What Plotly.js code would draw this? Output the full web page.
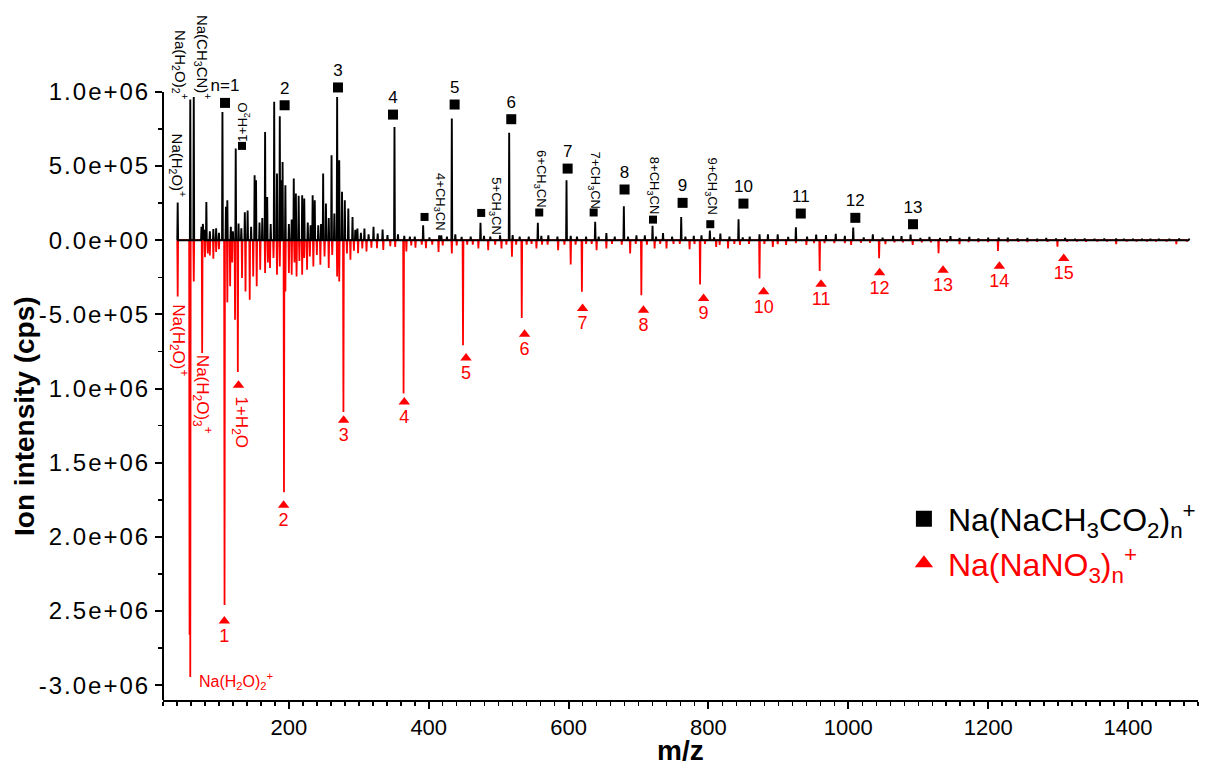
<!DOCTYPE html>
<html><head><meta charset="utf-8">
<script src="https://cdn.plot.ly/plotly-3.0.1.min.js"></script>
<style>
html,body{margin:0;padding:0;background:#fff;}
#chart{width:1214px;height:770px;}
g.ytick text{letter-spacing:2px;}
</style></head>
<body><div id="chart"></div>
<script>
// ---------- spectrum peaks (m/z, intensity in cps) ----------
const blackPeakMz = [41,59,64,75,77,79,82,87,92,96,100,105,110,112,117,120,124,128,132,137,141,146,151,153,158,162,166,169,174,179,183,187,190,191,195,200,204,207,210,214,219,222,227,231,234,237,242,246,249,253,257,261,265,269,272,276,280,285,291,295,298,303,308,314,321,327,334,341,351,356,365,373,380,392,401,415,418,426,433,438,447,460,474,479,488,502,515,520,530,543,556,561,571,584,597,603,612,625,638,643,654,666,679,685,697,709,720,725,735,748,761,767,779,790,802,808,817,830,843,849,859,873,885,899,914,925,941,954,968,982,995,1007,1022,1035,1049,1064,1076,1089,1103,1116,1131,1146,1159,1173,1186,1200,1215,1228,1242,1256,1270,1283,1297,1310,1324,1338,1352,1366,1383,1394,1407,1420,1432,1444,1459,1473,1487];
const blackPeakInt = [254000,949000,966000,90000,110000,70000,258000,60000,75000,80000,50000,865000,225000,270000,90000,60000,618000,112000,80000,189000,200000,90000,438000,405000,120000,150000,730000,292000,110000,933000,450000,836000,405000,528000,371000,110000,140000,416000,315000,300000,303000,281000,120000,100000,303000,270000,100000,110000,450000,247000,150000,573000,180000,966000,539000,326000,270000,213000,157000,70000,79000,50000,79000,40000,90000,45000,72000,35000,764000,40000,30000,25000,25000,101000,20000,33000,33000,25000,820000,40000,22000,25000,117000,30000,25000,33000,724000,35000,25000,25000,117000,30000,33000,25000,405000,30000,25000,25000,124000,25000,49000,25000,229000,25000,33000,33000,97000,25000,49000,25000,157000,25000,30000,33000,65000,20000,45000,25000,142000,20000,25000,40000,40000,40000,22000,88000,25000,38000,34000,43000,29000,85000,20000,40000,18000,29000,27000,38000,15000,22000,15000,27000,15000,22000,12000,18000,18000,18000,12000,15000,10000,15000,12000,15000,10000,12000,10000,12000,12000,9000,10000,10000,9000,10000,9000,12000,10000];

const redPeakMz = [41,58,59,64,76,80,84,87,92,96,100,108,112,116,119,123,127,133,138,144,149,154,159,166,170,173,178,183,187,193,195,200,204,208,211,215,219,222,226,230,235,240,245,251,257,262,269,272,278,283,288,293,299,305,311,318,326,335,345,352,364,368,375,381,390,396,405,414,420,433,440,449,455,463,471,485,495,504,511,519,525,533,540,547,554,562,570,585,594,603,610,619,625,633,640,654,662,676,688,696,704,712,723,731,740,750,759,773,780,788,795,811,816,828,837,845,858,873,880,892,899,911,925,940,951,959,966,980,995,1004,1018,1031,1044,1053,1066,1078,1092,1105,1118,1129,1141,1159,1172,1186,1200,1214,1228,1243,1256,1270,1285,1299,1313,1327,1340,1356,1370,1383,1398,1412,1427,1440,1455,1469,1484];
const redPeakInt = [379000,2660000,2945000,278000,761000,115000,90000,103000,125000,80000,60000,2460000,419000,311000,150000,536000,888000,255000,345000,401000,244000,311000,199000,221000,150000,188000,120000,233000,177000,1700000,345000,221000,233000,150000,244000,140000,233000,120000,199000,110000,177000,100000,166000,110000,188000,100000,244000,278000,1158000,90000,132000,70000,87000,55000,76000,50000,53000,65000,40000,45000,1034000,76000,35000,50000,30000,53000,30000,79000,35000,90000,35000,708000,30000,30000,56000,67000,30000,56000,30000,112000,30000,524000,30000,25000,56000,30000,30000,67000,30000,164000,30000,348000,25000,25000,67000,56000,25000,30000,90000,25000,371000,30000,56000,25000,56000,25000,25000,61000,25000,299000,25000,45000,31000,56000,25000,31000,25000,258000,25000,45000,27000,31000,20000,31000,20000,207000,20000,20000,20000,31000,18000,18000,121000,27000,15000,15000,31000,15000,15000,88000,15000,27000,12000,12000,12000,72000,12000,10000,12000,10000,10000,43000,10000,8000,10000,8000,8000,27000,8000,8000,8000,8000,8000,27000,8000];

// ---------- cluster assignments ----------
const acetateLabels = ["n=1","2","3","4","5","6","7","8","9","10","11","12","13"];
const acetateMz = [108.7,193.9,270.2,348.9,437,518,598.6,680,763,850,932,1010,1092.5];
const acetateY = [926000,910000,1030000,847000,915000,816000,483000,342000,252000,247000,180000,151000,108000];
const acetateAdductLabels = ["1+H<sub>2</sub>O","4+CH<sub>3</sub>CN","5+CH<sub>3</sub>CN","6+CH<sub>3</sub>CN","7+CH<sub>3</sub>CN","8+CH<sub>3</sub>CN","9+CH<sub>3</sub>CN"];
const acetateAdductMz = [133,394,475,558,635.8,720.7,802.6];
const acetateAdductY = [636000,157000,184000,187000,187000,139000,108000];

const nitrateLabels = ["1","2","3","4","5","6","7","8","9","10","11","12","13","14","15"];
const nitrateMz = [107.7,192.5,278.3,365,453.3,537,620,707,793,878.9,961,1044.7,1135.4,1216,1308];
const nitrateY = [-2567000,-1787000,-1214000,-1090000,-794000,-634000,-461000,-472000,-393000,-348000,-297000,-220000,-202000,-175000,-123000];
const nitrateAdductLabels = ["1+H<sub>2</sub>O"];
const nitrateAdductMz = [128];
const nitrateAdductY = [-978000];

const yTickVals = [-3000000,-2500000,-2000000,-1500000,-1000000,-500000,0,500000,1000000];
const yTickText = ["-3.0e+06","2.5e+06","2.0e+06","1.5e+06","1.0e+06","-5.0e+05","0.0e+00","5.0e+05","1.0e+06"];
const yMinorVals = [-2750000,-2250000,-1750000,-1250000,-750000,-250000,250000,750000];

const seriesNames = ["Na(NaCH<sub>3</sub>CO<sub>2</sub>)<sub>n</sub><sup>+</sup>","Na(NaNO<sub>3</sub>)<sub>n</sub><sup>+</sup>"];
const xTitle = "m/z";
const yTitle = "Ion intensity (cps)";

// ---------- build stick spectra ----------
function sticks(mz, inten, sign){
  const x=[], y=[];
  for(let i=0;i<mz.length;i++){
    x.push(mz[i]-0.6, mz[i], mz[i]+0.6);
    y.push(0, sign*inten[i], 0);
  }
  return {x,y};
}
const bs = sticks(blackPeakMz, blackPeakInt, 1);
const rs = sticks(redPeakMz, redPeakInt, -1);

const FONT = 'Liberation Sans, Arial, sans-serif';
const traces = [
  {x:rs.x, y:rs.y, type:'scatter', mode:'lines', line:{color:'#ff0000', width:1.8}, showlegend:false, hoverinfo:'skip'},
  {x:bs.x, y:bs.y, type:'scatter', mode:'lines', line:{color:'#000000', width:1.9}, showlegend:false, hoverinfo:'skip'},
  {x:acetateMz, y:acetateY, type:'scatter', mode:'markers+text', text:acetateLabels, textposition:'top center',
   textfont:{size:17, color:'#000', family:FONT}, marker:{symbol:'square', size:10, color:'#000'}, cliponaxis:false, showlegend:false},
  {x:acetateAdductMz, y:acetateAdductY, type:'scatter', mode:'markers', marker:{symbol:'square', size:8, color:'#000'}, cliponaxis:false, showlegend:false},
  {x:nitrateMz, y:nitrateY, type:'scatter', mode:'markers+text', text:nitrateLabels, textposition:'bottom center',
   textfont:{size:18, color:'#ff0000', family:FONT}, marker:{symbol:'triangle-up', size:10, color:'#ff0000'}, cliponaxis:false, showlegend:false},
  {x:nitrateAdductMz, y:nitrateAdductY, type:'scatter', mode:'markers', marker:{symbol:'triangle-up', size:10, color:'#ff0000'}, cliponaxis:false, showlegend:false},
  // legend entries
  {x:[null], y:[null], type:'scatter', mode:'markers', name:seriesNames[0], marker:{symbol:'square', size:16, color:'#000'}},
  {x:[null], y:[null], type:'scatter', mode:'markers', name:'<span style="color:#ff0000">'+seriesNames[1]+'</span>', marker:{symbol:'triangle-up', size:16, color:'#ff0000'}}
];

// ---------- labels ----------
const ann = [];
function lab(text,x,y,angle,color,size,xanchor){
  ann.push({text:text, x:x, y:y, xref:'x', yref:'y', showarrow:false, textangle:angle,
    xanchor:xanchor||'center', yanchor:'middle', font:{size:size, color:color, family:FONT}});
}
lab('Na(H<sub>2</sub>O)<sup>+</sup>', 42.3, 506000, 90, '#000', 15);
lab('Na(H<sub>2</sub>O)<sub>2</sub><sup>+</sup>', 45.9, 1180000, 90, '#000', 15);
lab('Na(CH<sub>3</sub>CN)<sup>+</sup>', 77, 1230000, 90, '#000', 15);
lab(acetateAdductLabels[0], 135.8, 798000, -90, '#000', 13);
const addX = [415.5,494.2,559.5,636.8,721.6,803.6];
const addY = [260000,231000,417000,407000,369000,362000];
for(let i=1;i<acetateAdductLabels.length;i++) lab(acetateAdductLabels[i], addX[i-1], addY[i-1], 90, '#000', 13);
lab('Na(H<sub>2</sub>O)<sup>+</sup>', 42.3, -672000, 90, '#ff0000', 17);
lab('Na(H<sub>2</sub>O)<sub>3</sub><sup>+</sup>', 75.8, -1036000, 90, '#ff0000', 17);
lab(nitrateAdductLabels[0], 129.5, -1226000, 90, '#ff0000', 17);
lab('Na(H<sub>2</sub>O)<sub>2</sub><sup>+</sup>', 68.6, -2970000, 0, '#ff0000', 16, 'left');
// axis titles
ann.push({text:'<b>'+yTitle+'</b>', xref:'paper', yref:'paper', x:-0.1345, y:0.43, textangle:-90, showarrow:false,
  xanchor:'center', yanchor:'middle', font:{size:28, family:FONT, color:'#000'}});
ann.push({text:'<b>'+xTitle+'</b>', xref:'paper', yref:'paper', x:0.5, y:-0.077, showarrow:false,
  xanchor:'center', yanchor:'middle', font:{size:28, family:FONT, color:'#000'}});

const yBottom = -3100000, yAxisTop = 1000000, yViewTop = 1350000;

const layout = {
  width:1214, height:770,
  margin:{l:163, r:16, t:40, b:70},
  paper_bgcolor:'#ffffff', plot_bgcolor:'#ffffff',
  font:{family:FONT, color:'#000'},
  showlegend:true,
  legend:{x:0.712, y:0.316, xanchor:'left', yanchor:'top', font:{size:32, family:FONT, color:'#000'},
          bgcolor:'rgba(0,0,0,0)', tracegroupgap:0, itemwidth:38},
  xaxis:{range:[20,1500], tickmode:'linear', tick0:0, dtick:200, showline:true, linewidth:2, linecolor:'#000',
    ticks:'outside', ticklen:7, tickwidth:2, tickcolor:'#000', showgrid:false, zeroline:false,
    minor:{tickmode:'linear', tick0:0, dtick:20, ticks:'outside', ticklen:4, tickwidth:1.5, tickcolor:'#000', showgrid:false},
    tickfont:{size:22, family:FONT}, fixedrange:true, automargin:false},
  yaxis:{range:[yBottom,yViewTop], tickmode:'array', tickvals:yTickVals, ticktext:yTickText, showline:false,
    ticks:'outside', ticklen:7, tickwidth:2, tickcolor:'#000', showgrid:false, zeroline:false,
    minor:{tickmode:'array', tickvals:yMinorVals, ticks:'outside', ticklen:4, tickwidth:1.5, tickcolor:'#000', showgrid:false},
    tickfont:{size:24, family:FONT}, fixedrange:true, automargin:false},
  shapes:[{type:'line', xref:'paper', yref:'y', x0:0, x1:0, y0:yBottom, y1:yAxisTop, line:{color:'#000', width:2}, layer:'above'}],
  annotations:ann
};
Plotly.newPlot('chart', traces, layout, {displayModeBar:false, staticPlot:true});
</script>
</body></html>
